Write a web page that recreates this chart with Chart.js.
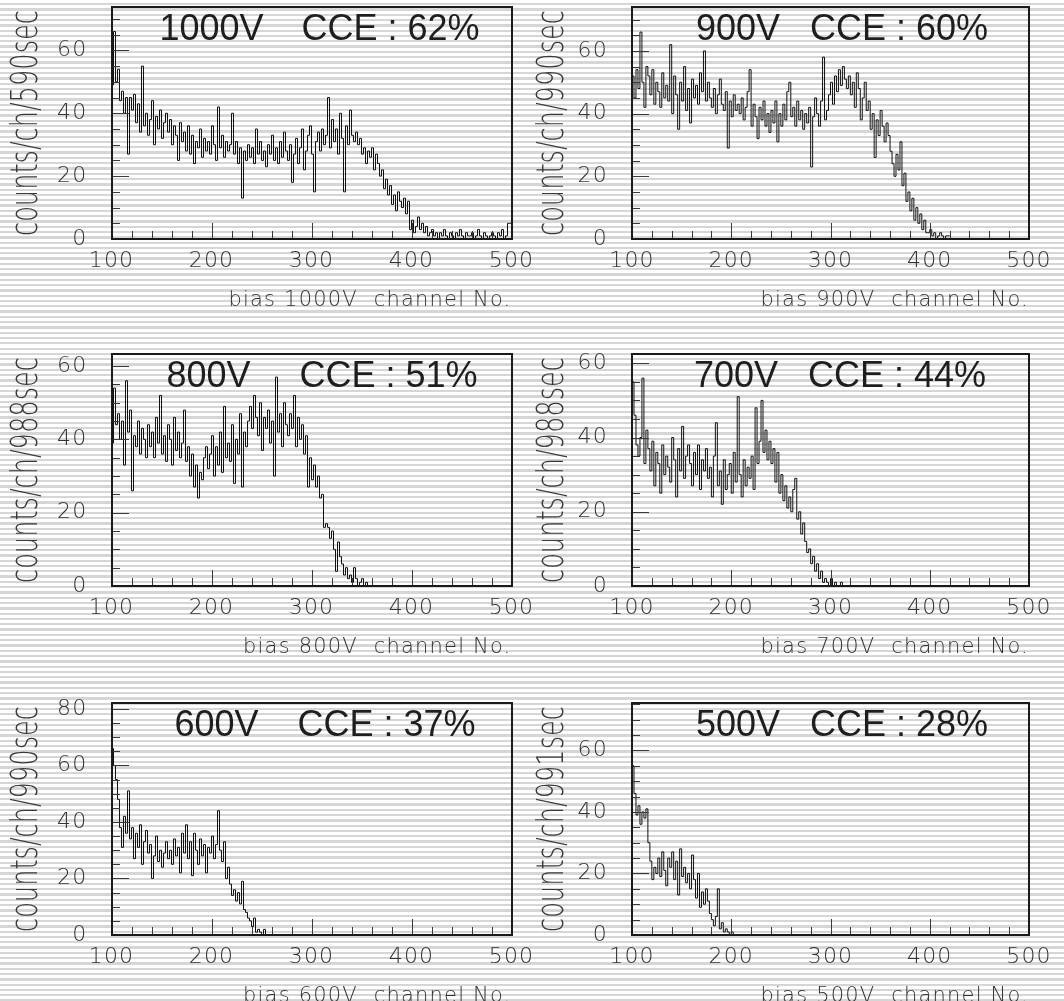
<!DOCTYPE html>
<html>
<head>
<meta charset="utf-8">
<script src="https://cdn.jsdelivr.net/npm/chart.js@4.4.1/dist/chart.umd.min.js"></script>
<style>
  html, body { margin: 0; padding: 0; overflow: hidden; }
  body {
    width: 1064px; height: 1001px; position: relative;
    background: repeating-linear-gradient(to bottom, #ffffff 0px, #ffffff 3px, #d6d6d6 3px, #d6d6d6 5.3px);
  }
  canvas { position: absolute; }
</style>
</head>
<body>
<script>
// channel bins: 2 channels wide, starting at channel 100
const firstChannel = 100;
const binWidth = 2;

const counts1000V = [
  55, 49, 66, 50, 54, 44, 47, 40, 45, 27,
  45, 41, 46, 37, 43, 34, 55, 36, 40, 33,
  38, 44, 30, 39, 35, 41, 32, 37, 40, 34,
  38, 30, 36, 33, 25, 37, 31, 34, 28, 36,
  27, 33, 24, 31, 29, 35, 26, 32, 28, 31,
  27, 36, 30, 25, 42, 29, 33, 26, 31, 28,
  30, 40, 27, 31, 24, 29, 13, 28, 25, 30,
  26, 29, 24, 35, 27, 31, 25, 28, 23, 30,
  27, 33, 25, 29, 24, 31, 26, 34, 28, 25,
  30, 18, 27, 32, 24, 29, 35, 22, 28, 33,
  36, 27, 15, 31, 34, 28, 35, 30, 33, 45,
  29, 38, 31, 35, 27, 40, 32, 15, 36, 30,
  41, 33, 31, 34, 30, 32, 27, 29, 24, 28,
  26, 29, 22, 27, 24, 20, 22, 16, 19, 14,
  17, 11, 14, 9, 15, 12, 10, 13, 8, 12,
  3, 6, 2, 4, 7, 3, 5, 2, 4, 1,
  2, 3, 1, 2, 0, 2, 1, 3, 1, 0,
  2, 1, 0, 2, 1, 3, 1, 0, 2, 1,
  1, 2, 0, 1, 3, 1, 0, 2, 1, 0,
  1, 2, 1, 0, 2, 1, 3, 0, 1, 5
];
const counts900V = [
  57, 52, 45, 54, 48, 66, 50, 42, 55, 52,
  46, 54, 43, 50, 47, 42, 53, 45, 49, 44,
  62, 40, 52, 46, 35, 50, 44, 55, 41, 48,
  37, 51, 45, 49, 43, 53, 47, 60, 44, 50,
  45, 42, 48, 40, 46, 51, 43, 41, 47, 29,
  44, 39, 46, 41, 43, 40, 45, 38, 42, 47,
  54, 36, 43, 39, 32, 42, 38, 44, 36, 40,
  34, 41, 37, 44, 31, 40, 36, 43, 38, 47,
  50, 39, 42, 36, 44, 38, 41, 35, 40, 37,
  42, 23, 39, 45, 40, 36, 44, 58, 38, 41,
  46, 50, 43, 52, 47, 54, 49, 55, 51, 48,
  52, 46, 50, 42, 53, 48, 38, 45, 50, 41,
  44, 35, 40, 26, 38, 33, 41, 36, 31, 37,
  33, 28, 24, 20, 27, 22, 31, 17, 21, 12,
  15, 9, 13, 6, 10, 5, 8, 3, 6, 2,
  2, 3, 1, 2, 0, 1, 2, 1, 0, 1
];
const counts800V = [
  50, 39, 54, 44, 47, 40, 45, 33, 56, 42,
  48, 26, 41, 38, 45, 36, 43, 40, 35, 44,
  38, 42, 35, 46, 39, 52, 36, 41, 34, 44,
  40, 33, 46, 37, 42, 35, 39, 48, 34, 38,
  30, 36, 27, 33, 24, 31, 29, 35, 38, 32,
  36, 41, 30, 38, 33, 42, 31, 49, 35, 39,
  34, 44, 28, 40, 36, 47, 27, 42, 38, 45,
  49, 43, 52, 46, 41, 50, 37, 46, 43, 48,
  39, 45, 30, 57, 42, 47, 38, 50, 44, 41,
  47, 43, 52, 38, 46, 40, 44, 36, 41, 27,
  35, 29, 33, 27, 30, 24, 25, 16, 17, 16,
  13, 15, 10, 4, 12, 8, 6, 3, 5, 2,
  3, 1, 5, 2, 0, 1, 2, 0, 1, 0
];
const counts700V = [
  50, 55, 46, 38, 35, 40, 56, 33, 42, 37,
  31, 39, 27, 36, 33, 25, 38, 30, 35, 32,
  28, 40, 34, 24, 37, 31, 43, 29, 35, 38,
  33, 27, 36, 30, 38, 26, 34, 31, 37, 29,
  32, 24, 35, 44, 27, 31, 22, 34, 26, 30,
  33, 25, 36, 28, 51, 30, 24, 34, 27, 32,
  29, 35, 26, 48, 33, 39, 50, 36, 42, 34,
  39, 33, 37, 28, 36, 25, 30, 23, 27, 21,
  24, 20, 26, 29, 18, 20, 14, 17, 12, 9,
  10, 6, 8, 4, 6, 2, 4, 1, 2, 1,
  0, 2, 0, 1, 0, 0, 1, 0, 0, 0
];
const counts600V = [
  74, 66, 60, 55, 48, 38, 31, 42, 36, 51,
  34, 38, 27, 36, 31, 39, 25, 33, 37, 29,
  32, 20, 28, 35, 26, 30, 24, 29, 33, 27,
  30, 25, 34, 28, 31, 22, 36, 29, 39, 27,
  33, 21, 36, 30, 25, 34, 28, 32, 22, 31,
  29, 35, 27, 32, 44, 30, 26, 33, 20, 24,
  18, 14, 16, 12, 15, 11, 19, 9, 8, 6,
  5, 3, 6, 1, 2, 1, 0, 2, 0
];
const counts500V = [
  62, 55, 46, 39, 42, 36, 40, 38, 41, 30,
  24, 18, 22, 20, 25, 19, 27, 21, 16, 25,
  22, 27, 18, 24, 13, 28, 19, 22, 17, 20,
  15, 26, 18, 12, 20, 9, 14, 10, 15, 11,
  7, 5, 3, 6, 15, 2, 4, 1, 2, 1,
  0, 1, 0, 0
];

const seriesList = [counts1000V, counts900V, counts800V, counts700V, counts600V, counts500V];
const biasLabels = ['1000V', '900V', '800V', '700V', '600V', '500V'];
const cceLabels = ['CCE : 62%', 'CCE : 60%', 'CCE : 51%', 'CCE : 44%', 'CCE : 37%', 'CCE : 28%'];
const yTitles = ['counts/ch/590sec', 'counts/ch/990sec', 'counts/ch/988sec',
                 'counts/ch/988sec', 'counts/ch/990sec', 'counts/ch/991sec'];
const xTitles = ['bias 1000V  channel No.', 'bias 900V  channel No.', 'bias 800V  channel No.',
                 'bias 700V  channel No.', 'bias 600V  channel No.', 'bias 500V  channel No.'];
const yMaxima = [73.8, 74, 63.3, 62.5, 82.1, 75.4];
const xRange = [100, 500];

const LIGHT = "'DejaVu Sans', 'Liberation Sans', sans-serif";

// wider spacing for the thin axis lettering
const spacing = {
  id: 'spacing',
  beforeDraw(chart) { chart.ctx.letterSpacing = '1.2px'; },
  afterDraw(chart) { chart.ctx.letterSpacing = '0px'; }
};

// inward ticks, frame and in-plot texts
const panelDecor = {
  id: 'panelDecor',
  afterDatasetsDraw(chart, args, opts) {
    const { ctx, chartArea: a, scales: { x, y } } = chart;
    ctx.save();
    ctx.letterSpacing = '0px';
    ctx.strokeStyle = '#3a3a3a';
    ctx.lineWidth = 1;
    const L = Math.round(a.left), B = Math.round(a.bottom);
    ctx.beginPath();
    y.ticks.forEach(t => {
      const py = Math.round(y.getPixelForValue(t.value)) + 0.5;
      const len = t.value % 20 === 0 ? 17 : 8;
      ctx.moveTo(L, py);
      ctx.lineTo(L + len, py);
    });
    x.ticks.forEach(t => {
      const px = Math.round(x.getPixelForValue(t.value)) + 0.5;
      const len = t.value % 100 === 0 ? 16 : 8;
      ctx.moveTo(px, B);
      ctx.lineTo(px, B - len);
    });
    ctx.stroke();

    ctx.strokeStyle = '#1a1a1a';
    ctx.lineWidth = 2;
    ctx.strokeRect(L, Math.round(a.top), Math.round(a.right) - L, B - Math.round(a.top));

    ctx.fillStyle = '#1e1e1e';
    ctx.font = "36px 'Liberation Sans', Arial, sans-serif";
    ctx.textBaseline = 'middle';
    ctx.textAlign = 'right';
    ctx.fillText(opts.bias, a.left + opts.biasEnd, a.top + 23);
    ctx.textAlign = 'left';
    ctx.fillText(opts.cce, a.left + opts.cceStart, a.top + 23);

    // vertical axis title, narrow and tall like the scan
    ctx.translate(a.left - opts.yTitleGap, (a.top + a.bottom) / 2);
    ctx.rotate(-Math.PI / 2);
    ctx.font = '200 38px ' + LIGHT;
    const w = ctx.measureText(opts.yTitle).width;
    ctx.scale(226 / w, 1);
    ctx.fillStyle = '#3a3a3a';
    ctx.textAlign = 'center';
    ctx.textBaseline = 'alphabetic';
    ctx.fillText(opts.yTitle, 0, 0);
    ctx.restore();
  }
};

const positions = [
  { left: 0,   top: 0,   width: 545, yWidth: 111.5, padRight: 33.5, yTitleGap: 75, biasEnd: 152, cceStart: 190 },
  { left: 532, top: 0,   width: 532, yWidth: 100,   padRight: 35,   yTitleGap: 69, biasEnd: 148, cceStart: 178 },
  { left: 0,   top: 347, width: 545, yWidth: 111.5, padRight: 33.5, yTitleGap: 75, biasEnd: 139, cceStart: 188 },
  { left: 532, top: 347, width: 532, yWidth: 100,   padRight: 35,   yTitleGap: 69, biasEnd: 146, cceStart: 176 },
  { left: 0,   top: 696, width: 545, yWidth: 111.5, padRight: 33.5, yTitleGap: 75, biasEnd: 147, cceStart: 186 },
  { left: 532, top: 696, width: 532, yWidth: 100,   padRight: 35,   yTitleGap: 69, biasEnd: 148, cceStart: 178 }
];
const canvasHeight = 313;

seriesList.forEach((series, i) => {
  const pos = positions[i];
  const canvas = document.createElement('canvas');
  canvas.width = pos.width;
  canvas.height = canvasHeight;
  canvas.style.left = pos.left + 'px';
  canvas.style.top = pos.top + 'px';
  document.body.appendChild(canvas);

  const points = series.map((v, k) => ({ x: firstChannel + k * binWidth, y: v }));
  points.push({ x: firstChannel + series.length * binWidth, y: series[series.length - 1] });

  new Chart(canvas.getContext('2d'), {
    type: 'line',
    data: {
      datasets: [{
        data: points,
        stepped: 'after',
        borderColor: '#111',
        borderWidth: 1,
        pointRadius: 0,
        fill: false
      }]
    },
    plugins: [spacing, panelDecor],
    options: {
      responsive: false,
      animation: false,
      events: [],
      layout: { autoPadding: false, padding: { top: 7, right: pos.padRight, left: 0, bottom: 0 } },
      plugins: {
        legend: { display: false },
        tooltip: { enabled: false },
        panelDecor: {
          bias: biasLabels[i], cce: cceLabels[i], yTitle: yTitles[i],
          yTitleGap: pos.yTitleGap, biasEnd: pos.biasEnd, cceStart: pos.cceStart
        }
      },
      scales: {
        x: {
          type: 'linear',
          min: xRange[0],
          max: xRange[1],
          grid: { display: false, drawTicks: false },
          border: { display: false },
          afterFit: s => {
            s.height = canvasHeight - 7 - 232;
            s.paddingLeft = 0;
            s.paddingRight = 0;
          },
          ticks: {
            stepSize: 20,
            autoSkip: false,
            maxRotation: 0,
            includeBounds: false,
            padding: 9,
            color: '#333',
            font: { family: LIGHT, size: 22, weight: 200 },
            callback: v => (v % 100 === 0 ? String(v) : '')
          },
          title: {
            display: true,
            text: xTitles[i],
            align: 'end',
            color: '#333',
            font: { family: LIGHT, size: 21, weight: 200 },
            padding: { top: 0, bottom: 0 }
          }
        },
        y: {
          min: 0,
          max: yMaxima[i],
          grid: { display: false, drawTicks: false },
          border: { display: false },
          afterFit: s => {
            s.width = pos.yWidth;
            s.paddingTop = 0;
            s.paddingBottom = 0;
          },
          ticks: {
            stepSize: 5,
            autoSkip: false,
            includeBounds: false,
            padding: 24,
            color: '#333',
            font: { family: LIGHT, size: 22, weight: 200 },
            callback: v => (v % 20 === 0 ? String(v) : '')
          }
        }
      }
    }
  });
});
</script>
</body>
</html>
